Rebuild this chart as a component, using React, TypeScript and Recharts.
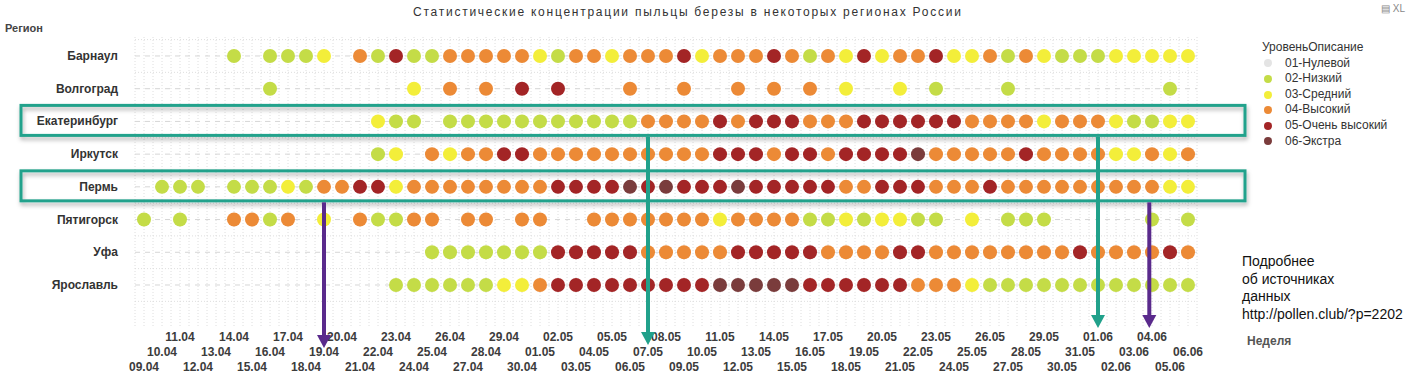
import { ScatterChart, Scatter, XAxis, YAxis, CartesianGrid, ReferenceLine } from 'recharts';

const dates = [
  '09.04', '10.04', '11.04', '12.04', '13.04', '14.04', '15.04', '16.04', '17.04', '18.04',
  '19.04', '20.04', '21.04', '22.04', '23.04', '24.04', '25.04', '26.04', '27.04', '28.04',
  '29.04', '30.04', '01.05', '02.05', '03.05', '04.05', '05.05', '06.05', '07.05', '08.05',
  '09.05', '10.05', '11.05', '12.05', '13.05', '14.05', '15.05', '16.05', '17.05', '18.05',
  '19.05', '20.05', '21.05', '22.05', '23.05', '24.05', '25.05', '26.05', '27.05', '28.05',
  '29.05', '30.05', '31.05', '01.06', '02.06', '03.06', '04.06', '05.06', '06.06',
];

const regions = ['Барнаул', 'Волгоград', 'Екатеринбург', 'Иркутск', 'Пермь', 'Пятигорск', 'Уфа', 'Ярославль'];

const levels = ['01-Нулевой', '02-Низкий', '03-Средний', '04-Высокий', '05-Очень высокий', '06-Экстра'];
const levelColors = ['#e4e4e4', '#c4dc47', '#f3ee3a', '#ec8a36', '#a32526', '#7a3c3c'];

// level code per day (1..6 = 01..06, 0 = no data)
const barnaul = [
  0, 0, 0, 0, 0, 2, 0, 2, 2, 2,
  3, 0, 4, 2, 5, 2, 2, 4, 4, 4,
  4, 4, 3, 2, 4, 4, 3, 4, 4, 4,
  5, 3, 4, 4, 4, 5, 4, 2, 4, 3,
  5, 3, 4, 4, 5, 3, 3, 4, 2, 4,
  3, 2, 2, 2, 3, 3, 3, 3, 3,
];
const volgograd = [
  0, 0, 0, 0, 0, 0, 0, 2, 0, 0,
  0, 0, 0, 0, 0, 3, 0, 4, 0, 4,
  0, 5, 0, 5, 0, 0, 0, 4, 0, 0,
  4, 0, 0, 4, 0, 4, 0, 4, 0, 3,
  0, 0, 3, 0, 2, 0, 0, 0, 2, 0,
  0, 0, 0, 0, 0, 0, 0, 2, 0,
];
const ekaterinburg = [
  0, 0, 0, 0, 0, 0, 0, 0, 0, 0,
  0, 0, 0, 3, 2, 2, 0, 2, 2, 2,
  2, 2, 2, 2, 2, 2, 2, 2, 4, 4,
  4, 4, 5, 4, 5, 5, 5, 4, 4, 4,
  5, 5, 5, 5, 5, 5, 4, 4, 4, 4,
  3, 4, 4, 4, 3, 2, 2, 3, 3,
];
const irkutsk = [
  0, 0, 0, 0, 0, 0, 0, 0, 0, 0,
  0, 0, 0, 2, 3, 0, 4, 3, 4, 4,
  5, 5, 4, 4, 4, 4, 4, 4, 4, 4,
  4, 4, 5, 5, 5, 4, 5, 5, 4, 5,
  5, 5, 5, 6, 4, 4, 4, 4, 4, 5,
  4, 4, 4, 4, 3, 3, 4, 3, 4,
];
const perm = [
  0, 2, 2, 2, 0, 2, 2, 2, 3, 2,
  4, 4, 5, 5, 3, 4, 4, 4, 4, 4,
  4, 4, 4, 5, 5, 5, 5, 6, 5, 6,
  5, 5, 5, 6, 5, 5, 5, 5, 5, 4,
  4, 5, 5, 5, 4, 4, 4, 5, 4, 4,
  4, 4, 4, 4, 4, 4, 4, 3, 3,
];
const pyatigorsk = [
  2, 0, 2, 0, 0, 4, 4, 2, 4, 0,
  3, 0, 4, 2, 2, 4, 4, 0, 4, 4,
  0, 4, 4, 0, 0, 4, 4, 4, 4, 4,
  4, 4, 3, 4, 4, 4, 4, 2, 2, 3,
  2, 3, 3, 2, 2, 0, 3, 0, 2, 2,
  2, 0, 0, 0, 0, 0, 2, 0, 2,
];
const ufa = [
  0, 0, 0, 0, 0, 0, 0, 0, 0, 0,
  0, 0, 0, 0, 0, 0, 2, 2, 2, 2,
  2, 2, 2, 5, 5, 5, 5, 5, 4, 4,
  4, 4, 4, 5, 5, 5, 5, 5, 4, 4,
  4, 4, 5, 5, 4, 4, 4, 4, 4, 4,
  4, 4, 5, 4, 4, 4, 4, 5, 4,
];
const yaroslavl = [
  0, 0, 0, 0, 0, 0, 0, 0, 0, 0,
  0, 0, 0, 0, 2, 2, 2, 2, 2, 2,
  3, 3, 4, 5, 5, 5, 5, 5, 5, 5,
  5, 5, 6, 6, 6, 6, 6, 5, 5, 5,
  5, 5, 5, 4, 4, 4, 3, 2, 2, 2,
  2, 2, 2, 2, 2, 2, 2, 2, 2,
];

const regionLevels = [barnaul, volgograd, ekaterinburg, irkutsk, perm, pyatigorsk, ufa, yaroslavl];

// highlighted rows and arrow annotations (day index, row below which arrow starts)
const highlightRows = [2, 4];
const arrows = [
  { day: 10, fromRow: 4, tip: 348, color: '#5a2a8c' },
  { day: 28, fromRow: 2, tip: 345, color: '#21a18b' },
  { day: 53, fromRow: 2, tip: 328, color: '#21a18b' },
  { day: 55.85, fromRow: 4, tip: 328, color: '#5a2a8c' },
];

const FONT = 'Arial, "Liberation Sans", sans-serif';
const W = 1407;
const H = 389;
const PLOT_LEFT = 135;
const PLOT_RIGHT = 1197;
const PLOT_TOP = 37;
const PLOT_BOTTOM = 327;
const Y_MIN = -0.58;
const Y_MAX = 8.284;
const DAY_W = (PLOT_RIGHT - PLOT_LEFT) / dates.length;
const ROW_H = (PLOT_BOTTOM - PLOT_TOP) / (Y_MAX - Y_MIN);

const xOf = (d: number) => PLOT_LEFT + (d + 0.5) * DAY_W;
const yOf = (r: number) => PLOT_TOP + (r - Y_MIN) * ROW_H;

const series = levels.map((name, li) => {
  const pts: { day: number; row: number }[] = [];
  regionLevels.forEach((arr, row) => {
    arr.forEach((code, day) => {
      if (code === li + 1) pts.push({ day, row });
    });
  });
  return { name, color: levelColors[li], pts };
});

const verticalPts = Array.from({ length: dates.length * 2 + 1 }, (_, k) => PLOT_LEFT + (k * DAY_W) / 2);
const horizontalPts = Array.from({ length: regions.length + 1 }, (_, k) => yOf(k - 0.5));

const XTick = (props: any) => {
  const i = props.payload.value as number;
  const base = [371, 356, 341][i % 3];
  return (
    <text x={props.x} y={base} textAnchor="middle" fontSize={12} fontWeight="bold" fill="#3c3c3c" fontFamily={FONT}>
      {dates[i]}
    </text>
  );
};

const YTick = (props: any) => (
  <text x={118} y={props.y} dy={4} textAnchor="end" fontSize={12} fontWeight="bold" fill="#333" fontFamily={FONT}>
    {regions[props.payload.value]}
  </text>
);

export default function App() {
  return (
    <div style={{ position: 'relative', width: W, height: H, background: '#fff', fontFamily: FONT }}>
      <style>{'body{margin:0}'}</style>

      <div style={{ position: 'absolute', left: 413, top: 5, fontSize: 12, letterSpacing: 1.75, color: '#333', whiteSpace: 'nowrap' }}>
        Статистические концентрации пыльцы березы в некоторых регионах России
      </div>
      <div style={{ position: 'absolute', right: 2, top: 3, fontSize: 10, color: '#888' }}>▤ XL</div>
      <div style={{ position: 'absolute', left: 5, top: 22, fontSize: 11, fontWeight: 'bold', color: '#444' }}>Регион</div>

      <ScatterChart width={W} height={H} margin={{ top: PLOT_TOP, left: 10, right: W - PLOT_RIGHT, bottom: 12 }}>
        <CartesianGrid
          verticalPoints={verticalPts}
          horizontalPoints={horizontalPts}
          stroke="#dedede"
          strokeDasharray="1 2"
        />
        {regions.map((_, k) => (
          <ReferenceLine key={k} y={k} stroke="#d6d6d6" strokeDasharray="5 5" />
        ))}
        <XAxis
          type="number"
          dataKey="day"
          domain={[-0.5, dates.length - 0.5]}
          ticks={dates.map((_, i) => i)}
          interval={0}
          allowDataOverflow
          axisLine={false}
          tickLine={false}
          height={50}
          tick={<XTick />}
        />
        <YAxis
          type="number"
          dataKey="row"
          domain={[Y_MIN, Y_MAX]}
          ticks={regions.map((_, k) => k)}
          interval={0}
          reversed
          allowDataOverflow
          axisLine={false}
          tickLine={false}
          width={125}
          tick={<YTick />}
        />
        {series.map((s) => (
          <Scatter
            key={s.name}
            name={s.name}
            data={s.pts}
            fill={s.color}
            isAnimationActive={false}
            shape={(p: any) => <circle cx={p.cx} cy={p.cy} r={7} fill={s.color} />}
          />
        ))}
      </ScatterChart>

      <svg width={W} height={H} style={{ position: 'absolute', left: 0, top: 0, pointerEvents: 'none' }}>
        <defs>
          <filter id="sh" x="-5%" y="-50%" width="110%" height="200%">
            <feDropShadow dx="1" dy="3" stdDeviation="2" floodColor="#000" floodOpacity="0.3" />
          </filter>
        </defs>
        {highlightRows.map((r) => (
          <rect key={r} x={21} y={yOf(r) - 16} width={1224} height={30} fill="none" stroke="#22a28c" strokeWidth={3} filter="url(#sh)" />
        ))}
        {arrows.map((a, i) => {
          const x = xOf(a.day);
          const y0 = yOf(a.fromRow) + 15.5;
          return (
            <g key={i}>
              <line x1={x} y1={y0} x2={x} y2={a.tip - 12} stroke={a.color} strokeWidth={4} />
              <polygon points={`${x - 7},${a.tip - 13} ${x + 7},${a.tip - 13} ${x},${a.tip}`} fill={a.color} />
            </g>
          );
        })}
      </svg>

      <div style={{ position: 'absolute', left: 1262, top: 40, fontSize: 12, color: '#333', lineHeight: '15.6px' }}>
        <div>УровеньОписание</div>
        {levels.map((l, i) => (
          <div key={l} style={{ display: 'flex', alignItems: 'center' }}>
            <span style={{ display: 'inline-block', width: 8, height: 8, borderRadius: 4, background: levelColors[i], marginLeft: 2, marginRight: 13 }} />
            <span>{l}</span>
          </div>
        ))}
      </div>

      <div style={{ position: 'absolute', left: 1242, top: 253, fontSize: 14, color: '#111', lineHeight: '17.7px', fontFamily: '"Liberation Sans", Arial, sans-serif' }}>
        <div>Подробнее</div>
        <div>об источниках</div>
        <div>данных</div>
        <div>http://pollen.club/?p=2202</div>
      </div>
      <div style={{ position: 'absolute', left: 1247, top: 334, fontSize: 12, fontWeight: 'bold', color: '#555' }}>Неделя</div>
    </div>
  );
}
